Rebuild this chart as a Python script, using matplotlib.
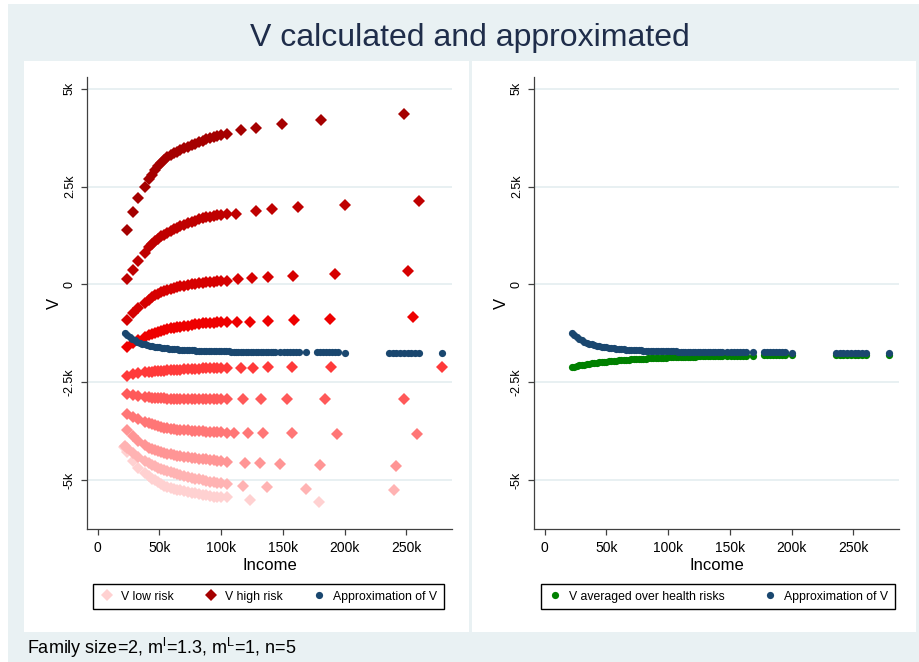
import matplotlib
matplotlib.use("Agg")
import matplotlib.pyplot as plt
from matplotlib.lines import Line2D
from matplotlib.patches import Rectangle

plt.rcParams['font.family'] = ['Liberation Sans', 'DejaVu Sans']
plt.rcParams['mathtext.fontset'] = 'custom'
plt.rcParams['mathtext.rm'] = 'Liberation Sans'
plt.rcParams['mathtext.it'] = 'Liberation Sans:italic'

# ---------------- data (income in thousands, V in units) ----------------
base_income = [24, 28.5, 33, 38, 41.5, 44, 46.5, 49, 51.5, 54, 56.5, 59, 61.5, 64,
               67, 70, 73, 76, 79, 82, 85, 88, 91, 94, 97, 100, 104.5]

# ten risk rows, from highest risk (A) to lowest risk (J)
row_A = [1400, 1850, 2220, 2490, 2690, 2800, 2920, 3020, 3110, 3190, 3250, 3305, 3350, 3390,
         3430, 3475, 3510, 3550, 3590, 3630, 3670, 3710, 3735, 3760, 3785, 3810, 3840]
tail_inc_A = [116, 128, 149, 181, 248]
tail_val_A = [3940, 4000, 4095, 4200, 4345]

row_B = [140, 380, 600, 800, 960, 1040, 1110, 1170, 1225, 1275, 1325, 1365, 1405, 1445,
         1490, 1530, 1565, 1600, 1630, 1660, 1690, 1710, 1730, 1750, 1765, 1775, 1790]
tail_inc_B = [112, 128, 141, 162, 200, 260]
tail_val_B = [1800, 1870, 1920, 1970, 2030, 2120]

row_C = [-900, -740, -600, -470, -390, -330, -280, -240, -200, -170, -140, -115, -95, -75,
         -50, -30, -10, 5, 20, 35, 45, 55, 65, 72, 80, 85, 95]
tail_inc_C = [114, 125, 138, 158, 192, 251]
tail_val_C = [128, 165, 187, 205, 256, 333]

row_D = [-1600, -1500, -1410, -1340, -1290, -1260, -1230, -1205, -1185, -1165, -1145, -1125,
         -1110, -1095, -1080, -1065, -1050, -1035, -1020, -1008, -998, -990, -982, -975, -970,
         -965, -960]
tail_inc_D = [113, 123, 138, 159, 188, 255]
tail_val_D = [-965, -950, -925, -905, -890, -836]

row_E = [-2330, -2300, -2270, -2250, -2240, -2230, -2220, -2210, -2205, -2200, -2195, -2190,
         -2185, -2180, -2175, -2170, -2165, -2160, -2155, -2150, -2148, -2145, -2142, -2140,
         -2138, -2135, -2132]
tail_inc_E = [116, 126, 138, 157, 189, 279]
tail_val_E = [-2130, -2125, -2120, -2115, -2110, -2098]

row_F = [-2800, -2830, -2855, -2875, -2885, -2895, -2900, -2905, -2910, -2915, -2920, -2922,
         -2925, -2927, -2930, -2931, -2932, -2933, -2934, -2935, -2935, -2936, -2936, -2937,
         -2937, -2937, -2938]
tail_inc_F = [118, 132, 153, 184, 248]
tail_val_F = [-2935, -2933, -2930, -2928, -2925]

row_G = [-3320, -3390, -3450, -3510, -3545, -3575, -3600, -3625, -3645, -3660, -3675, -3688,
         -3698, -3708, -3716, -3724, -3731, -3738, -3744, -3750, -3755, -3760, -3765, -3770,
         -3775, -3780, -3785]
tail_inc_G = [110, 121.5, 134, 157.5, 194, 259]
tail_val_G = [-3790, -3795, -3798, -3805, -3810, -3821]

row_H = [-3730, -3880, -3995, -4110, -4175, -4210, -4240, -4265, -4288, -4310, -4330, -4345,
         -4360, -4373, -4386, -4400, -4415, -4428, -4440, -4452, -4463, -4474, -4483, -4492,
         -4503, -4515, -4535]
tail_inc_H = [119, 131.5, 148, 180, 242]
tail_val_H = [-4565, -4575, -4590, -4606, -4632]

row_I = [-4180, -4300, -4410, -4500, -4560, -4610, -4650, -4690, -4725, -4755, -4780, -4805,
         -4828, -4850, -4875, -4898, -4920, -4940, -4960, -4980, -5000, -5020, -5040, -5058,
         -5075, -5085, -5095]
tail_inc_I = [22, 118, 137, 169, 240]
tail_val_I = [-4120, -5140, -5170, -5228, -5254]

row_J = [-4280, -4520, -4680, -4820, -4895, -4960, -5010, -5060, -5100, -5140, -5170, -5198,
         -5222, -5245, -5265, -5285, -5305, -5325, -5342, -5360, -5377, -5393, -5408, -5420,
         -5430, -5438, -5445]
tail_inc_J = [21.5, 123.5, 179]
tail_val_J = [-4160, -5502, -5570]

row_colors = ['#a50000', '#bf0000', '#d60000', '#ee0000', '#ff3a3a',
              '#ff5959', '#ff7676', '#ff9595', '#ffb3b3', '#ffd1d1']

# approximation of V and V averaged over health risks (same incomes)
approx_income = [22, 24, 26, 28, 30, 32, 34, 36, 38, 40, 42, 44, 46, 48, 50, 52, 54, 56, 58, 60,
                 62, 64, 66, 68, 70, 72, 74, 76, 78, 80, 82, 84, 86, 88, 90, 92, 94, 96, 98, 100,
                 102, 104, 106, 108, 110, 112, 114, 116, 118, 120, 122, 124, 126, 128, 130, 132,
                 134, 136, 138, 140, 142, 144,
                 148, 150.5, 153, 155.5, 158, 160.5, 163, 168.5,
                 177.5, 180, 182.5, 185, 187.5, 190, 192.5, 195, 200.5,
                 236, 239, 242, 245, 248, 251, 254, 257, 260, 278.5]
approx_V = [-1240, -1300, -1350, -1395, -1430, -1460, -1487, -1510, -1530, -1548,
            -1563, -1577, -1590, -1601, -1611, -1620, -1628, -1636, -1643, -1649,
            -1655, -1660, -1665, -1669, -1673, -1677, -1681, -1684, -1687, -1690,
            -1693, -1695, -1698, -1700, -1702, -1704, -1706, -1708, -1709, -1711,
            -1712, -1713, -1714, -1715, -1716, -1717, -1718, -1719, -1720, -1721,
            -1722, -1722, -1723, -1723, -1724, -1724, -1725, -1725, -1726, -1726,
            -1727, -1727,
            -1728, -1728, -1729, -1729, -1730, -1730, -1731, -1733,
            -1736, -1736, -1737, -1737, -1738, -1738, -1739, -1739, -1741,
            -1748, -1748, -1749, -1749, -1750, -1750, -1751, -1751, -1752, -1755]
avg_V = [-2120, -2100, -2085, -2070, -2058, -2047, -2037, -2028, -2019, -2010,
         -2002, -1994, -1987, -1980, -1973, -1966, -1960, -1954, -1948, -1942,
         -1937, -1932, -1927, -1922, -1917, -1913, -1909, -1905, -1901, -1897,
         -1894, -1890, -1887, -1884, -1880, -1877, -1874, -1871, -1869, -1866,
         -1864, -1861, -1859, -1857, -1855, -1853, -1851, -1849, -1847, -1845,
         -1843, -1841, -1840, -1838, -1837, -1835, -1834, -1832, -1831, -1830,
         -1829, -1828,
         -1826, -1825, -1825, -1824, -1824, -1823, -1823, -1821,
         -1815, -1815, -1814, -1814, -1813, -1813, -1812, -1812, -1810,
         -1800, -1800, -1799, -1799, -1798, -1798, -1797, -1797, -1796, -1791]

x_ticks = [0, 50, 100, 150, 200, 250]
x_ticklabels = ['0', '50k', '100k', '150k', '200k', '250k']
y_ticks = [-5000, -2500, 0, 2500, 5000]
y_ticklabels = ['-5k', '-2.5k', '0', '2.5k', '5k']

NAVY = '#1a476f'
GREEN = '#008000'
BG = '#e9f1f3'
GRID = '#e4edf0'
AXC = '#404040'

rows = [(row_A, tail_inc_A, tail_val_A), (row_B, tail_inc_B, tail_val_B),
        (row_C, tail_inc_C, tail_val_C), (row_D, tail_inc_D, tail_val_D),
        (row_E, tail_inc_E, tail_val_E), (row_F, tail_inc_F, tail_val_F),
        (row_G, tail_inc_G, tail_val_G), (row_H, tail_inc_H, tail_val_H),
        (row_I, tail_inc_I, tail_val_I), (row_J, tail_inc_J, tail_val_J)]

DMS = 6.2   # diamond marker size
CMS = 5.2   # circle marker size

# ---------------- figure ----------------
W, H = 920, 662
fig = plt.figure(figsize=(W / 100, H / 100), dpi=100)
fig.patch.set_facecolor('white')


def fx(px):
    return px / W


def fy(py):
    return 1 - py / H


fig.add_artist(Rectangle((fx(8), 0), fx(912), 1 - 4 / H, transform=fig.transFigure,
                         facecolor=BG, edgecolor='none', zorder=-10))
fig.add_artist(Rectangle((fx(24), fy(632)), fx(469 - 24), (632 - 61) / H,
                         transform=fig.transFigure, facecolor='white', edgecolor='none', zorder=-9))
fig.add_artist(Rectangle((fx(472), fy(632)), fx(916 - 472), (632 - 61) / H,
                         transform=fig.transFigure, facecolor='white', edgecolor='none', zorder=-9))

ax1 = fig.add_axes([fx(87), fy(529), fx(365), 452 / H])
ax2 = fig.add_axes([fx(534), fy(529), fx(365), 452 / H])

for ax in (ax1, ax2):
    ax.set_facecolor('white')
    ax.set_xlim(-8.7, 287)
    ax.set_ylim(-6250, 5300)
    ax.spines['top'].set_visible(False)
    ax.spines['right'].set_visible(False)
    for s in ('left', 'bottom'):
        ax.spines[s].set_color(AXC)
        ax.spines[s].set_linewidth(0.9)
    ax.set_xticks(x_ticks)
    ax.set_xticklabels(x_ticklabels, fontsize=10)
    ax.set_yticks(y_ticks)
    ax.set_yticklabels(y_ticklabels, fontsize=9, rotation=90, va='center')
    ax.tick_params(axis='both', direction='out', color=AXC, width=0.9)
    ax.tick_params(axis='x', length=4.5, pad=4)
    ax.tick_params(axis='y', length=4.5, pad=3.5)
    ax.yaxis.grid(True, color=GRID, linewidth=1.2)
    ax.set_axisbelow(True)
    ax.set_xlabel('Income', fontsize=12, labelpad=2.5)
    ax.set_ylabel('V', fontsize=12, labelpad=1.5)

# left panel: ten risk rows, lowest risk drawn first
for (vals, t_inc, t_val), col in reversed(list(zip(rows, row_colors))):
    ax1.plot(base_income + t_inc, vals + t_val, linestyle='none', marker='D', ms=DMS,
             color=col, markeredgewidth=0)
ax1.plot(approx_income, approx_V, linestyle='none', marker='o', ms=CMS, color=NAVY,
         markeredgewidth=0)

# right panel
ax2.plot(approx_income, avg_V, linestyle='none', marker='o', ms=CMS, color=GREEN,
         markeredgewidth=0)
ax2.plot(approx_income, approx_V, linestyle='none', marker='o', ms=CMS, color=NAVY,
         markeredgewidth=0)

# legends
h_low = Line2D([], [], linestyle='none', marker='D', ms=DMS, color=row_colors[-1], markeredgewidth=0)
h_high = Line2D([], [], linestyle='none', marker='D', ms=DMS, color=row_colors[0], markeredgewidth=0)
h_app = Line2D([], [], linestyle='none', marker='o', ms=CMS, color=NAVY, markeredgewidth=0)
h_avg = Line2D([], [], linestyle='none', marker='o', ms=CMS, color=GREEN, markeredgewidth=0)

leg_kw = dict(loc='upper left', bbox_transform=fig.transFigure, borderaxespad=0,
              fontsize=8.8, frameon=True, fancybox=False, framealpha=1,
              edgecolor='black', handlelength=1.2, handletextpad=0.55, borderpad=0.55)
l1 = ax1.legend([h_low, h_high, h_app], ['V low risk', 'V high risk', 'Approximation of V'],
                ncol=3, bbox_to_anchor=(fx(93), fy(584)), columnspacing=2.4, **leg_kw)
l2 = ax2.legend([h_avg, h_app], ['V averaged over health risks', 'Approximation of V'],
                ncol=2, bbox_to_anchor=(fx(541), fy(584)), columnspacing=3.1, **leg_kw)
for l in (l1, l2):
    l.get_frame().set_linewidth(1.0)

fig.text(fx(470), fy(38), 'V calculated and approximated', ha='center', va='center',
         fontsize=23, color='#1f2d4a')
fig.text(fx(27), fy(648), 'Family size=2, m$^\\mathrm{l}$=1.3, m$^\\mathrm{L}$=1, n=5',
         ha='left', va='center', fontsize=13, color='black')

fig.savefig('out.png', dpi=100, facecolor=fig.get_facecolor())
